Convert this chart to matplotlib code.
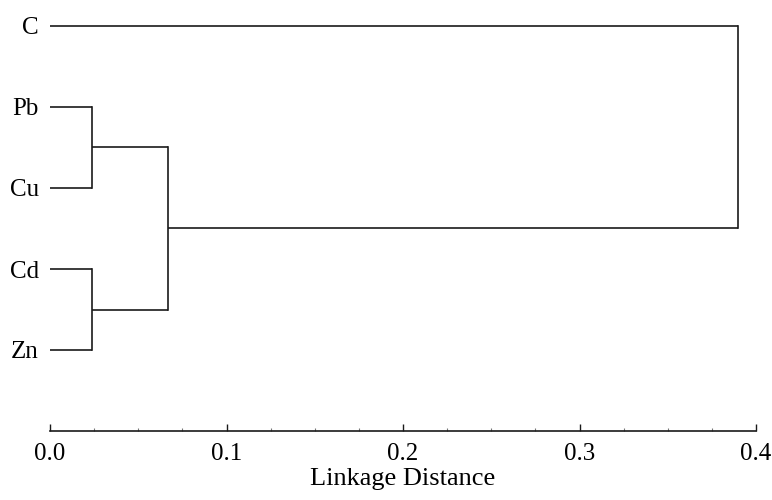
import matplotlib.pyplot as plt
from matplotlib.ticker import MultipleLocator

# leaf labels, top to bottom
leaves = ["C", "Pb", "Cu", "Cd", "Zn"]
leaf_pos = [5, 4, 3, 2, 1]

# merges: (left node, right node, linkage distance); new nodes numbered from len(leaves)
merge_a = [1, 3, 5, 0]
merge_b = [2, 4, 6, 7]
merge_dist = [0.024, 0.024, 0.067, 0.390]

xticks = [0.0, 0.1, 0.2, 0.3, 0.4]

plt.rcParams['font.family'] = ['Liberation Serif', 'DejaVu Serif']

fig = plt.figure(figsize=(7.72, 5.0), dpi=100)
ax = fig.add_axes([50 / 772, 1 - 431 / 500, (756 - 50) / 772, (431 - 26) / 500])

# node positions (x = height, y = vertical slot)
node_x = [0.0] * len(leaves)
node_y = list(leaf_pos)

lc = '#1a1a1a'
lw = 1.2
for a, b, d in zip(merge_a, merge_b, merge_dist):
    ya, yb = node_y[a], node_y[b]
    ax.plot([node_x[a], d], [ya, ya], color=lc, lw=lw, clip_on=False, solid_capstyle='butt')
    ax.plot([node_x[b], d], [yb, yb], color=lc, lw=lw, clip_on=False, solid_capstyle='butt')
    ax.plot([d, d], [ya, yb], color=lc, lw=lw, clip_on=False, solid_capstyle='projecting')
    node_x.append(d)
    node_y.append((ya + yb) / 2)

ax.set_xlim(0, 0.4)
ax.set_ylim(0, 5)

ax.set_yticks(leaf_pos)
ax.set_yticklabels(leaves)
ax.tick_params(axis='y', length=0, pad=8, labelsize=18)

ax.set_xticks(xticks)
ax.set_xticklabels([f"{t:.1f}" for t in xticks])
ax.xaxis.set_minor_locator(MultipleLocator(0.025))
ax.tick_params(axis='x', which='major', direction='in', length=5, width=1, pad=9, labelsize=18, color=lc)
ax.tick_params(axis='x', which='minor', direction='in', length=2.5, width=0.8, color='#777777')

for s in ['top', 'right', 'left']:
    ax.spines[s].set_visible(False)
ax.spines['bottom'].set_color(lc)
ax.spines['bottom'].set_linewidth(1.2)

ax.set_xlabel("Linkage Distance", fontsize=19, labelpad=1.5)

plt.savefig("out.png", dpi=100)
plt.close()
